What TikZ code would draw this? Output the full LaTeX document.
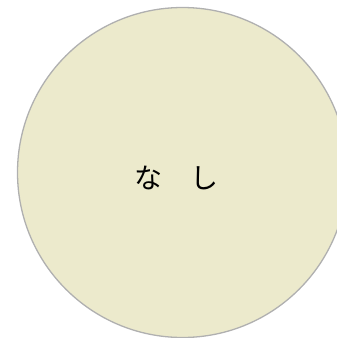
\documentclass[tikz,border=0pt]{standalone}
\usepackage{fontspec}
\newfontfamily\cjk{Noto Sans CJK JP}
\definecolor{circfill}{HTML}{ECEACC}
\definecolor{circline}{HTML}{B0B0B0}
\begin{document}
\begin{tikzpicture}[x=1bp,y=-1bp,
  bubble/.style={circle,draw=circline,fill=circfill,line width=1.3bp,minimum size=330bp,inner sep=0pt},
  label/.style={font=\cjk\fontsize{20bp}{24bp}\selectfont,text=black,scale=1.4}]
\useasboundingbox (0,0) rectangle (337,338);
\begin{scope}
\clip (0,0) rectangle (337,338);
\node[bubble] (c) at (182.5,172.5) {};
\end{scope}
\node[label] (t) at (176,177.5) {な　し};
\end{tikzpicture}
\end{document}
